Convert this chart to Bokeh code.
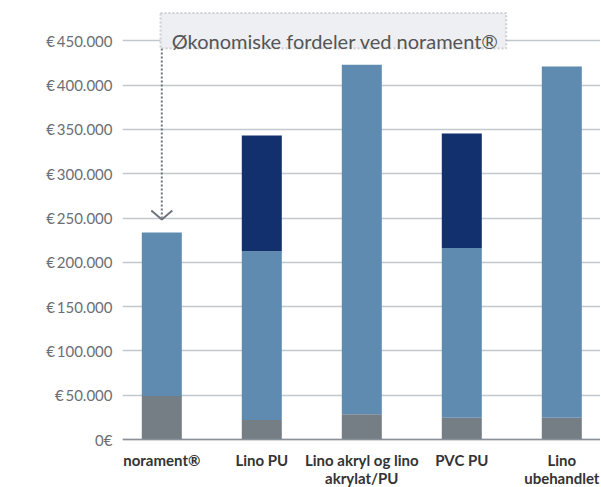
from bokeh.plotting import figure
from bokeh.models import ColumnDataSource, Range1d, FixedTicker, BoxAnnotation, Label, Span
from bokeh.embed import file_html
from bokeh.resources import INLINE

# ---- data ----
categories = ["norament®", "Lino PU", "Lino akryl og lino\nakrylat/PU", "PVC PU", "Lino\nubehandlet"]
base_cost = [49000, 22000, 28500, 24500, 24500]        # grey (bottom)
maintenance = [184500, 190500, 394500, 191500, 396500]  # light blue
extra = [0, 130500, 0, 129500, 0]                        # dark blue (top)
y_ticks = [0, 50000, 100000, 150000, 200000, 250000, 300000, 350000, 400000, 450000]
title_text = "Økonomiske fordeler ved norament®"

x = list(range(len(categories)))
totals = [a + b + c for a, b, c in zip(base_cost, maintenance, extra)]

src = ColumnDataSource(dict(x=x, base=base_cost, maint=maintenance, extra=extra))

p = figure(width=600, height=487, output_backend="svg", toolbar_location=None,
           x_range=Range1d(-0.393, 4.387), y_range=Range1d(-54176, 495486),
           min_border_left=122, min_border_right=0, min_border_top=0, min_border_bottom=0)
p.outline_line_color = None
p.background_fill_color = "white"

colors = ["#757d85", "#5f8bb0", "#12306d"]
p.vbar_stack(["base", "maint", "extra"], x="x", width=0.4, source=src,
             color=colors, line_color=None)

# axes
p.xaxis.visible = False
p.xgrid.grid_line_color = None
p.ygrid.grid_line_color = "#c3c7ce"
p.ygrid.grid_line_width = 1.5
p.yaxis.ticker = FixedTicker(ticks=y_ticks)


def fmt(v):
    if v == 0:
        return "0€"
    return "€\u2009" + f"{v:,}".replace(",", ".")


p.yaxis.major_label_overrides = {t: fmt(t) for t in y_ticks}
p.yaxis.axis_line_color = None
p.yaxis.major_tick_line_color = None
p.yaxis.minor_tick_line_color = None
p.yaxis.major_tick_out = 0
p.yaxis.major_label_standoff = 10
p.yaxis.major_label_text_font = "Lato"
p.yaxis.major_label_text_font_size = "15px"
p.yaxis.major_label_text_color = "#6b6e73"

# baseline (x axis line)
p.add_layout(Span(location=0, dimension="width", line_color="#8a9099", line_width=1.5))

# category labels below the baseline
for i, c in zip(x, categories):
    p.add_layout(Label(x=i, y=0, y_offset=-11, text=c, text_align="center",
                       text_baseline="top", text_font="Lato", text_font_style="bold",
                       text_font_size="15px", text_color="#333333",
                       text_line_height=1.0))

# ---- annotation: title box with dotted pointer to norament bar ----
box_bottom = 441300
box_top = 481500
box = BoxAnnotation(left=-0.013, right=3.444, bottom=box_bottom, top=box_top,
                    fill_color="#eeeff2", fill_alpha=1.0,
                    line_color="#6f757e", line_width=2, line_dash="2 2")
p.add_layout(box)

p.add_layout(Label(x=0, y=box_bottom, x_offset=10, y_offset=8, text=title_text,
                   text_font="Lato", text_font_size="20px", text_color="#555555",
                   text_baseline="alphabetic"))

tip_y = totals[0] + 14800
chev_y = tip_y + 10200
p.line([0, 0], [box_bottom, tip_y + 2000], line_color="#6f757e", line_width=2,
       line_dash="2 2")
p.line([-0.105, 0, 0.105], [chev_y, tip_y, chev_y], line_color="#6f757e", line_width=2)

open("out.html", "w").write(file_html(p, INLINE))
